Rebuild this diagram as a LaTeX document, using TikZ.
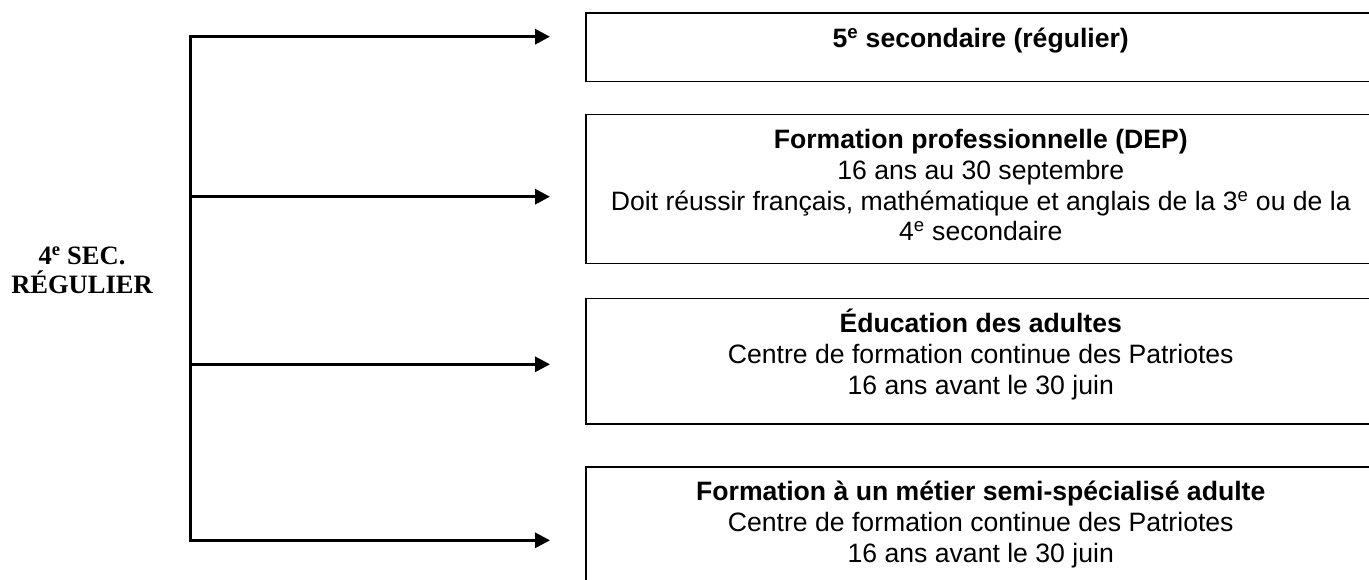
\documentclass[tikz,border=0pt]{standalone}
\usepackage{fontspec}
\setmainfont{Liberation Sans}
\newfontfamily\timesfam{Liberation Serif}
\usetikzlibrary{arrows.meta}
\newcommand\tightlines{\lineskiplimit=-20pt\relax}
\begin{document}
\begin{tikzpicture}[x=1pt,y=-1pt,
  tip/.tip={Triangle[length=15pt,width=15pt]},
  conn/.style={line width=3.2pt,-tip},
  trunk/.style={line width=3.2pt,tip-tip,line join=miter},
  box/.style={draw,line width=1.5pt,rectangle,minimum width=790pt,anchor=north west,inner sep=0pt},
  txt/.style={anchor=north,align=center,inner sep=0pt,font=\fontsize{26.6pt}{30.7pt}\selectfont},
  lbl/.style={anchor=north,align=center,inner sep=0pt,font={\timesfam\bfseries\fontsize{26.5pt}{29pt}\selectfont\tightlines}}]
\useasboundingbox (0,0) rectangle (1369,580);
\clip (0,0) rectangle (1369,580);
% boxes
\node[box,minimum height=68.5pt] (b1) at (585,12.5) {};
\node[box,minimum height=149pt] (b2) at (585,114) {};
\node[box,minimum height=125pt] (b3) at (585,298) {};
\node[box,minimum height=154pt] (b4) at (585,466) {};
% texts
\node[txt] (t1) at ([yshift=-8.5pt]b1.north) {\rule{0pt}{26pt}\bfseries 5\textsuperscript{e} secondaire (régulier)};
\node[txt] (t2) at ([yshift=-8.5pt]b2.north) {\rule{0pt}{26pt}\textbf{Formation professionnelle (DEP)}\\16 ans au 30 septembre\\Doit réussir français, mathématique et anglais de la 3\textsuperscript{e} ou de la\\4\textsuperscript{e} secondaire};
\node[txt] (t3) at ([yshift=-8.5pt]b3.north) {\rule{0pt}{26pt}\textbf{Éducation des adultes}\\Centre de formation continue des Patriotes\\16 ans avant le 30 juin};
\node[txt] (t4) at ([yshift=-8.5pt]b4.north) {\rule{0pt}{26pt}\textbf{Formation à un métier semi-spécialisé adulte}\\Centre de formation continue des Patriotes\\16 ans avant le 30 juin};
% label
\node[lbl] (src) at (82,244) {\rule{0pt}{20pt}4\textsuperscript{e} SEC.\\RÉGULIER};
% trunk and arrows
\coordinate (j1) at (190.7,36.7);
\coordinate (j2) at (190.7,196.7);
\coordinate (j3) at (190.7,364.3);
\coordinate (j4) at (190.7,540.3);
\coordinate (e1) at (550,36.7);
\coordinate (e2) at (550,196.7);
\coordinate (e3) at (550,364.3);
\coordinate (e4) at (550,540.3);
\draw[trunk] (e1) -- (j1) -- (j4) -- (e4);
\draw[conn] (j2) -- (e2);
\draw[conn] (j3) -- (e3);
\end{tikzpicture}
\end{document}
